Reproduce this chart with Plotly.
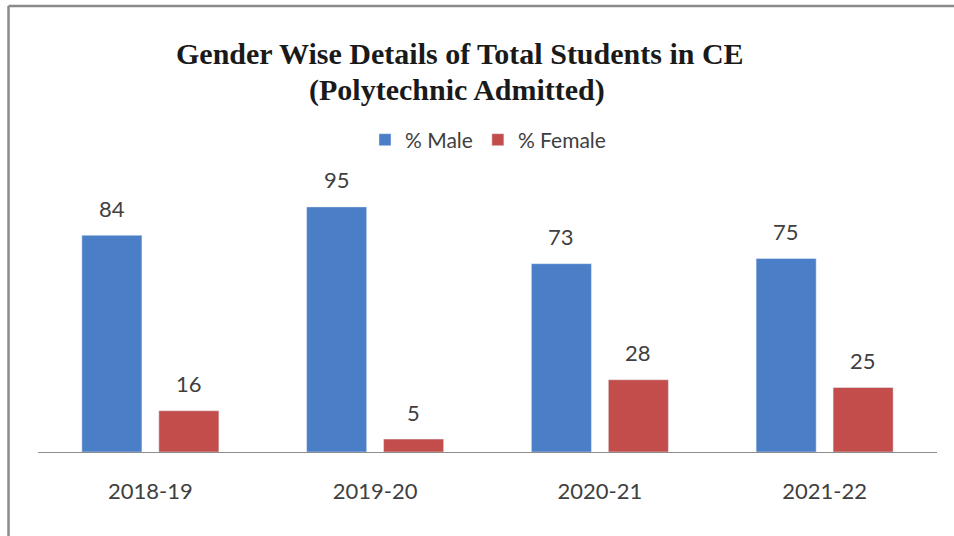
import plotly.graph_objects as go

categories = ["2018-19", "2019-20", "2020-21", "2021-22"]
male = [84, 95, 73, 75]
female = [16, 5, 28, 25]

BLUE = "#4A7EC6"
RED = "#C24D4B"
TXT = "#404040"
FONT = "Lato"

L, R, T, B = 38, 17, 168, 84
W, H = 954, 536
PW, PH = W - L - R, H - T - B

def px_x(px):
    return (px - L) / PW

def px_y(py):
    return 1 + (T - py) / PH

fig = go.Figure()
fig.add_trace(go.Bar(name="% Male", x=categories, y=male, marker_color=BLUE))
fig.add_trace(go.Bar(name="% Female", x=categories, y=female, marker_color=RED))

annotations = []
for cat, m, f in zip(categories, male, female):
    annotations.append(dict(x=cat, y=m, xref="x", yref="y", text=str(m), showarrow=False,
                            xshift=-38.5, yshift=27, font=dict(family=FONT, size=22, color=TXT)))
    annotations.append(dict(x=cat, y=f, xref="x", yref="y", text=str(f), showarrow=False,
                            xshift=38.5, yshift=27, font=dict(family=FONT, size=22, color=TXT)))

annotations.append(dict(x=px_x(460), y=px_y(53), xref="paper", yref="paper",
                        text="<b>Gender Wise Details of Total Students in CE</b>", showarrow=False,
                        xanchor="center", yanchor="middle",
                        font=dict(family="Liberation Serif", size=30, color="#1a1a1a")))
annotations.append(dict(x=px_x(457), y=px_y(90), xref="paper", yref="paper",
                        text="<b>(Polytechnic Admitted)</b>", showarrow=False,
                        xanchor="center", yanchor="middle",
                        font=dict(family="Liberation Serif", size=30, color="#1a1a1a")))

shapes = [
    dict(type="line", xref="paper", yref="paper", x0=px_x(8.5), x1=px_x(8.5), y0=px_y(600), y1=px_y(6),
         line=dict(color="#8a8a8a", width=2.5)),
    dict(type="line", xref="paper", yref="paper", x0=px_x(8.5), x1=px_x(1000), y0=px_y(6), y1=px_y(6),
         line=dict(color="#8a8a8a", width=2.5)),
]

fig.update_layout(
    width=W, height=H,
    margin=dict(l=L, r=R, t=T, b=B),
    paper_bgcolor="white", plot_bgcolor="white",
    barmode="group", bargap=0.315, bargroupgap=0.22,
    showlegend=True,
    legend=dict(orientation="h", x=px_x(488), xanchor="center", y=px_y(140), yanchor="middle",
                font=dict(family=FONT, size=21, color=TXT), itemwidth=30),
    annotations=annotations,
    shapes=shapes,
    xaxis=dict(showline=True, linecolor="#8c8c8c", linewidth=1, showgrid=False, ticks="",
               tickfont=dict(family=FONT, size=22, color=TXT), ticklabelstandoff=20,
               fixedrange=True),
    yaxis=dict(range=[0, PH / 2.58], visible=False, showgrid=False, zeroline=False),
)

fig.write_html("out.html")
